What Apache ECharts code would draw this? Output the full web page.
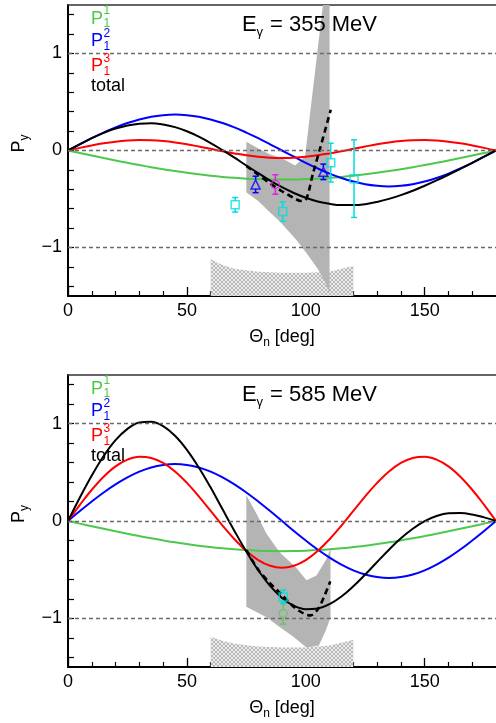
<!DOCTYPE html>
<html><head><meta charset="utf-8">
<script src="https://cdn.jsdelivr.net/npm/echarts@6/dist/echarts.min.js"></script>
<style>html,body{margin:0;padding:0;background:#fff}#c{width:496px;height:723px}</style>
</head><body><div id="c"></div>
<script>
// ---------------- data ----------------
const theta = [0,5,10,15,20,25,30,35,40,45,50,55,60,65,70,75,80,85,90,95,100,105,110,115,120,125,130,135,140,145,150,155,160,165,170,175,180];
const xMajor = [0,50,100,150];
const xMinor = [10,20,30,40,60,70,80,90,110,120,130,140,160,170];
const yLabels = [-1,0,1];
const yTicks = [-1.4,-1.2,-1,-0.8,-0.6,-0.4,-0.2,0,0.2,0.4,0.6,0.8,1,1.2,1.4];

// E_gamma = 355 MeV
const p11_355 = [0,-0.026,-0.052,-0.078,-0.103,-0.127,-0.15,-0.172,-0.193,-0.212,-0.23,-0.246,-0.26,-0.272,-0.282,-0.29,-0.295,-0.299,-0.30,-0.299,-0.295,-0.29,-0.282,-0.272,-0.26,-0.246,-0.23,-0.212,-0.193,-0.172,-0.15,-0.127,-0.103,-0.078,-0.052,-0.026,0];
const p12_355 = [0,0.064,0.127,0.185,0.238,0.283,0.32,0.348,0.364,0.37,0.364,0.348,0.32,0.283,0.238,0.185,0.127,0.064,0,-0.064,-0.127,-0.185,-0.238,-0.283,-0.32,-0.348,-0.364,-0.37,-0.364,-0.348,-0.32,-0.283,-0.238,-0.185,-0.127,-0.064,0];
const p13_355 = [0,0.027,0.052,0.074,0.091,0.102,0.107,0.105,0.097,0.083,0.064,0.041,0.017,-0.008,-0.030,-0.050,-0.065,-0.075,-0.078,-0.075,-0.065,-0.050,-0.030,-0.008,0.017,0.041,0.064,0.083,0.097,0.105,0.107,0.102,0.091,0.074,0.052,0.027,0];
const total_355 = [0,0.065,0.127,0.181,0.226,0.258,0.277,0.281,0.268,0.241,0.198,0.143,0.077,0.003,-0.074,-0.155,-0.233,-0.31,-0.378,-0.438,-0.487,-0.525,-0.55,-0.563,-0.563,-0.553,-0.53,-0.499,-0.46,-0.415,-0.363,-0.308,-0.25,-0.189,-0.127,-0.063,0];
const dashed_355 = [[75,-0.16],[80,-0.25],[85,-0.34],[90,-0.42],[95,-0.49],[98,-0.52],[100,-0.51],[103,-0.24],[106,0.02],[110.5,0.42]];
const bandUpper_355 = [[75,0.09],[80,0.02],[85,-0.04],[90,-0.08],[95.5,-0.155],[97.5,-0.11],[99.7,-0.06],[107.2,1.5],[110,1.5]];
const bandLower_355 = [[110,-1.47],[108,-1.35],[105,-1.22],[103,-1.15],[100,-1.05],[96,-0.92],[89,-0.73],[85,-0.64],[80,-0.52],[75,-0.43]];
const sysTop_355 = [[60,-1.12],[65,-1.18],[70,-1.22],[80,-1.25],[90,-1.26],[100,-1.26],[110,-1.25],[115,-1.22],[120,-1.19]];
const squares_355 = [[70.3,-0.56,0.075],[90.3,-0.63,0.10],[110.5,-0.125,0.20],[120.3,-0.29,0.40]];
const triangles_355 = [[78.9,-0.35,0.085],[107.4,-0.22,0.08]];
const circles_355 = [[87.2,-0.35,0.10]];

// E_gamma = 585 MeV
const p11_585 = [0,-0.027,-0.054,-0.080,-0.106,-0.131,-0.155,-0.178,-0.199,-0.219,-0.237,-0.254,-0.268,-0.281,-0.291,-0.299,-0.305,-0.309,-0.31,-0.309,-0.305,-0.299,-0.291,-0.281,-0.268,-0.254,-0.237,-0.219,-0.199,-0.178,-0.155,-0.131,-0.106,-0.080,-0.054,-0.027,0];
const p12_585 = [0,0.102,0.200,0.293,0.376,0.448,0.507,0.550,0.576,0.585,0.576,0.550,0.507,0.448,0.376,0.293,0.200,0.102,0,-0.102,-0.200,-0.293,-0.376,-0.448,-0.507,-0.550,-0.576,-0.585,-0.576,-0.550,-0.507,-0.448,-0.376,-0.293,-0.200,-0.102,0];
const p13_585 = [0,0.166,0.321,0.455,0.561,0.630,0.660,0.648,0.597,0.509,0.392,0.254,0.104,-0.047,-0.187,-0.308,-0.401,-0.460,-0.48,-0.460,-0.401,-0.308,-0.187,-0.047,0.104,0.254,0.392,0.509,0.597,0.648,0.660,0.630,0.561,0.455,0.321,0.166,0];
const total_585 = [0,0.241,0.467,0.668,0.831,0.947,1.012,1.02,0.974,0.875,0.731,0.55,0.343,0.12,-0.102,-0.314,-0.506,-0.667,-0.79,-0.871,-0.906,-0.9,-0.854,-0.776,-0.671,-0.55,-0.421,-0.295,-0.178,-0.08,-0.002,0.051,0.079,0.082,0.067,0.037,0];
const dashed_585 = [[75,-0.30],[80,-0.50],[85,-0.64],[90,-0.76],[94,-0.86],[97,-0.92],[100,-0.96],[102,-0.97],[105,-0.91],[108,-0.76],[110.3,-0.62]];
const bandUpper_585 = [[75,0.265],[79.3,0.075],[83.5,-0.13],[89,-0.32],[96,-0.48],[100.3,-0.61],[104.5,-0.56],[108.7,-0.39],[110.4,-0.28]];
const bandLower_585 = [[110.4,-0.99],[108.5,-1.12],[105.5,-1.28],[100.3,-1.30],[94.8,-1.19],[89,-1.09],[83.5,-0.99],[75,-0.88]];
const sysTop_585 = [[60,-1.19],[65,-1.23],[70,-1.26],[80,-1.29],[90,-1.30],[100,-1.30],[110,-1.28],[115,-1.25],[120,-1.22]];
const squares_585 = [[90.5,-0.78,0.07]];
const circles_585 = [[90.5,-0.95,0.11]];

// ---------------- styles ----------------
const FONT = '"Liberation Sans", Arial, Helvetica, sans-serif';
const GREEN = '#4cc84c', BLUE = '#0000ff', RED = '#ff0000', BLACK = '#000000';
const CYAN = '#00dede', MAGENTA = '#e020e0', LGREEN = '#66c466';
const YMIN = -1.5, YMAX = 1.5;

const pc = document.createElement('canvas'); pc.width = 4; pc.height = 4;
(function(){ const g = pc.getContext('2d'); g.fillStyle = '#ececec'; g.fillRect(0,0,4,4);
  g.fillStyle = '#b8b8b8'; for (let i=0;i<4;i++){ g.fillRect(i,i,1,1); g.fillRect(3-i,i,1,1);} })();
const HATCH = {image: pc, repeat: 'repeat'};

function pairs(vals){ return theta.map((t,i)=>[t, vals[i]]); }

function mainX(g){
  return {type:'value', gridIndex:g, min:0, max:180, position:'bottom',
    axisLine:{show:true, onZero:false, lineStyle:{color:'#000', width:2}},
    axisTick:{show:true, inside:true, length:9, customValues:xMajor, lineStyle:{color:'#000', width:1.3}},
    axisLabel:{customValues:xMajor, fontSize:18, fontFamily:FONT, color:'#000', margin:6},
    splitLine:{show:false},
    name:'{a|Θ}{s|n}{a| [deg]}', nameLocation:'middle', nameGap:32,
    nameTextStyle:{color:'#000', fontFamily:FONT, fontSize:18, rich:{
      a:{fontSize:18, fontFamily:FONT, color:'#000', verticalAlign:'top', lineHeight:21},
      s:{fontSize:12, fontFamily:FONT, color:'#000', verticalAlign:'bottom'}}}};
}
function minorX(g){
  return {type:'value', gridIndex:g, min:0, max:180, position:'bottom',
    axisLine:{show:false, onZero:false},
    axisTick:{show:true, inside:true, length:5, customValues:xMinor, lineStyle:{color:'#000', width:1.2}},
    axisLabel:{show:false}, splitLine:{show:false}};
}
function topX(g){
  return {type:'value', gridIndex:g, min:0, max:180, position:'top',
    axisLine:{show:true, onZero:false, lineStyle:{color:'#333', width:1.5}},
    axisTick:{show:false}, axisLabel:{show:false}, splitLine:{show:false}};
}
function mainY(g){
  return {type:'value', gridIndex:g, min:YMIN, max:YMAX,
    axisLine:{show:true, onZero:false, lineStyle:{color:'#000', width:2}},
    axisTick:{show:true, inside:true, length:6, customValues:yTicks, lineStyle:{color:'#000', width:1.2}},
    axisLabel:{customValues:yLabels, fontSize:18, fontFamily:FONT, color:'#000', margin:6,
      formatter: v => v < 0 ? '\u2212' + Math.abs(v) : String(v)},
    splitLine:{show:false},
    name:'{a|P}{s|y}', nameLocation:'middle', nameRotate:90, nameGap:22,
    nameTextStyle:{color:'#000', fontFamily:FONT, fontSize:18, padding:[0,0,0,14], rich:{
      a:{fontSize:18, fontFamily:FONT, color:'#000', verticalAlign:'top', lineHeight:21},
      s:{fontSize:12, fontFamily:FONT, color:'#000', verticalAlign:'bottom'}}}};
}

function gridLines(xi, yi){
  return {type:'line', xAxisIndex:xi, yAxisIndex:yi, data:[], z:1, silent:true,
    markLine:{silent:true, symbol:'none', animation:false, label:{show:false},
      lineStyle:{color:'#6a6a6a', type:[4,3], width:1.3},
      data:[{yAxis:1},{yAxis:0},{yAxis:-1}]}};
}
function curve(xi, yi, vals, color, z){
  return {type:'line', xAxisIndex:xi, yAxisIndex:yi, data:pairs(vals), showSymbol:false, symbol:'none',
    smooth:0.4, z:z||3, silent:true, lineStyle:{color, width:2}};
}
function dashed(xi, yi, pts){
  return {type:'line', xAxisIndex:xi, yAxisIndex:yi, data:pts, symbol:'none', smooth:0.3, z:4, silent:true,
    lineStyle:{color:'#000', width:2.6, type:[6,4]}};
}
function polygon(xi, yi, pts, fill, z){
  return {type:'custom', xAxisIndex:xi, yAxisIndex:yi, z, silent:true, clip:true, data:pts,
    renderItem(params, api){
      if (params.dataIndex !== 0) return;
      return {type:'polygon', shape:{points: pts.map(p => api.coord(p))}, style:{fill}};
    }};
}
function band(xi, yi, upper, lower){ return polygon(xi, yi, upper.concat(lower), '#b4b4b4', 2); }
function sys(xi, yi, top){
  const pts = [[top[0][0], YMIN]].concat(top, [[top[top.length-1][0], YMIN]]);
  return polygon(xi, yi, pts, HATCH, 2);
}
function errBars(xi, yi, pts, color, half){
  return {type:'custom', xAxisIndex:xi, yAxisIndex:yi, z:5, silent:true, data:pts,
    renderItem(params, api){
      const x = api.value(0), y = api.value(1), e = api.value(2);
      const c = api.coord([x,y]), t = api.coord([x,y+e]), b = api.coord([x,y-e]);
      const st = {stroke:color, lineWidth:1.5};
      const ch = [];
      if (c[1]-half > t[1]) ch.push({type:'line', shape:{x1:c[0],y1:t[1],x2:c[0],y2:c[1]-half}, style:st});
      if (c[1]+half < b[1]) ch.push({type:'line', shape:{x1:c[0],y1:c[1]+half,x2:c[0],y2:b[1]}, style:st});
      ch.push({type:'line', shape:{x1:c[0]-3,y1:t[1],x2:c[0]+3,y2:t[1]}, style:st});
      ch.push({type:'line', shape:{x1:c[0]-3,y1:b[1],x2:c[0]+3,y2:b[1]}, style:st});
      return {type:'group', children:ch};
    }};
}
function markers(xi, yi, pts, color, symbol, size){
  return {type:'scatter', xAxisIndex:xi, yAxisIndex:yi, z:6, silent:true, data:pts, symbol, symbolSize:size,
    itemStyle:{color:'rgba(255,255,255,0)', borderColor:color, borderWidth:1.5}};
}

// ---------------- text (legend + energy) ----------------
function t(x, base, s, fs, color){
  return {type:'text', x, y: base - 0.35*fs, silent:true, z:100,
    style:{text:s, fill:color, font: fs + 'px ' + FONT, align:'left', verticalAlign:'middle'}};
}
function panelText(oy, energy){
  const els = [];
  const ent = [[GREEN,'1',25],[BLUE,'2',47.5],[RED,'3',72.5]];
  ent.forEach(([c,sup,b]) => {
    els.push(t(91, oy+b, 'P', 18, c));
    els.push(t(103.5, oy+b-10, sup, 12, c));
    els.push(t(103.5, oy+b+3, '1', 12, c));
  });
  els.push(t(91, oy+92.7, 'total', 18, '#000'));
  els.push(t(242, oy+33, 'E', 22, '#000'));
  els.push(t(256.5, oy+37, 'γ', 13, '#000'));
  els.push(t(270, oy+33, '= ' + energy + ' MeV', 22, '#000'));
  return els;
}

function panelSeries(xi, yi, d){
  return [
    gridLines(xi, yi),
    sys(xi, yi, d.sys),
    band(xi, yi, d.up, d.lo),
    curve(xi, yi, d.p11, GREEN),
    curve(xi, yi, d.p12, BLUE),
    curve(xi, yi, d.p13, RED),
    curve(xi, yi, d.tot, BLACK, 3.5),
    dashed(xi, yi, d.dash)
  ];
}

const series = []
  .concat(panelSeries(0, 0, {sys:sysTop_355, up:bandUpper_355, lo:bandLower_355, p11:p11_355, p12:p12_355, p13:p13_355, tot:total_355, dash:dashed_355}))
  .concat([
    errBars(0,0,squares_355,CYAN,4), markers(0,0,squares_355,CYAN,'rect',8),
    errBars(0,0,triangles_355,BLUE,4.5), markers(0,0,triangles_355,BLUE,'triangle',[9,9]),
    errBars(0,0,circles_355,MAGENTA,4), markers(0,0,circles_355,MAGENTA,'circle',8)
  ])
  .concat(panelSeries(3, 1, {sys:sysTop_585, up:bandUpper_585, lo:bandLower_585, p11:p11_585, p12:p12_585, p13:p13_585, tot:total_585, dash:dashed_585}))
  .concat([
    errBars(3,1,circles_585,LGREEN,4), markers(3,1,circles_585,LGREEN,'circle',8),
    errBars(3,1,squares_585,CYAN,4), markers(3,1,squares_585,CYAN,'rect',8)
  ]);

const option = {
  animation:false,
  backgroundColor:'#fff',
  grid:[{left:68, top:5, right:0, height:291},{left:68, top:375, right:0, height:292}],
  xAxis:[mainX(0), minorX(0), topX(0), mainX(1), minorX(1), topX(1)],
  yAxis:[mainY(0), mainY(1)],
  series,
  graphic: panelText(0, '355').concat(panelText(370, '585'))
};
const chart = echarts.init(document.getElementById('c'), null, {renderer:'canvas'});
chart.setOption(option);
</script></body></html>
